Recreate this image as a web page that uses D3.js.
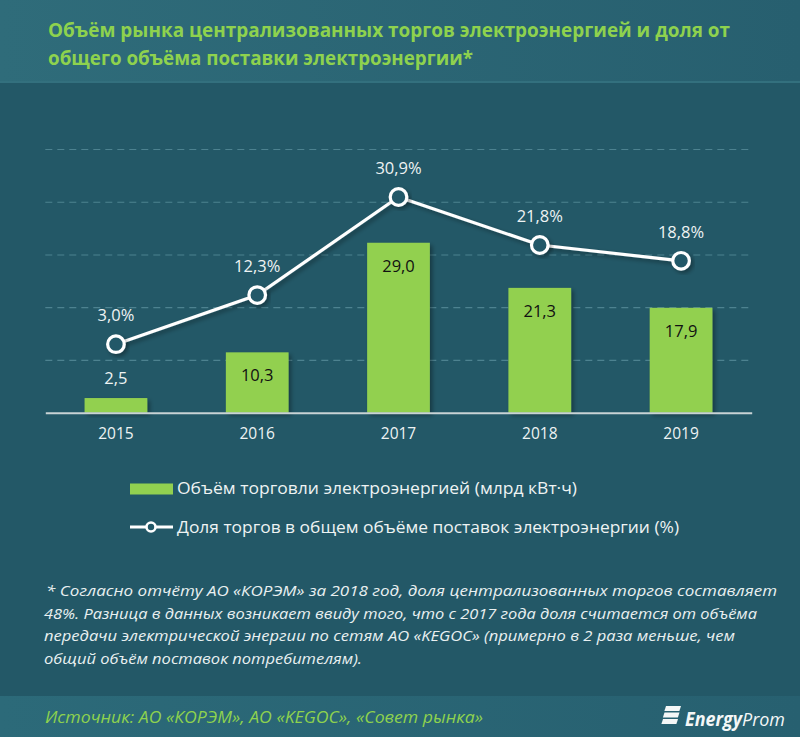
<!DOCTYPE html>
<html><head><meta charset="utf-8">
<script src="https://cdn.jsdelivr.net/npm/d3@7"></script>
<style>
html,body{margin:0;padding:0;background:#235867;}
svg{display:block;}
text{font-family:"Open Sans","DejaVu Sans",sans-serif;}
</style></head>
<body>
<script>
const years = ["2015","2016","2017","2018","2019"];
const volume = [2.5, 10.3, 29.0, 21.3, 17.9];
const share = [3.0, 12.3, 30.9, 21.8, 18.8];
const shareTicks = [-10, 0, 10, 20, 30, 40];
const volumeDomain = [0, 45];
const shareDomain = [-10, 40];
const titleLines = ["Объём рынка централизованных торгов электроэнергией и доля от",
                    "общего объёма поставки электроэнергии*"];
const legendLabels = ["Объём торговли электроэнергией (млрд кВт·ч)",
                      "Доля торгов в общем объёме поставок электроэнергии (%)"];
const footnoteLines = [
  "* Согласно отчёту АО «КОРЭМ» за 2018 год, доля централизованных торгов составляет",
  "48%. Разница в данных возникает ввиду того, что с 2017 года доля считается от объёма",
  "передачи электрической энергии по сетям АО «KEGOC» (примерно в 2 раза меньше, чем",
  "общий объём поставок потребителям)."];
const sourceText = "Источник: АО «КОРЭМ», АО «KEGOC», «Совет рынка»";

const W = 800, H = 737;
const BG = "#235867", GREEN = "#92d050", TITLEGREEN = "#8ed24e";
const fmt = v => d3.format(".1f")(v).replace(".", ",");

const svg = d3.select("body").append("svg").attr("width", W).attr("height", H);
const defs = svg.append("defs");
const hg = defs.append("linearGradient").attr("id","hg");
hg.append("stop").attr("offset","0%").attr("stop-color","#2f6c7a");
hg.append("stop").attr("offset","100%").attr("stop-color","#275f6f");
const fg = defs.append("linearGradient").attr("id","fg");
fg.append("stop").attr("offset","0%").attr("stop-color","#2c6a79");
fg.append("stop").attr("offset","100%").attr("stop-color","#276070");
const sh = defs.append("filter").attr("id","sh").attr("x","-20%").attr("y","-20%").attr("width","150%").attr("height","150%");
sh.append("feDropShadow").attr("dx",2.5).attr("dy",2.5).attr("stdDeviation",2).attr("flood-color","#000").attr("flood-opacity",0.35);

// background
svg.append("rect").attr("width",W).attr("height",H).attr("fill",BG);
svg.append("rect").attr("width",W).attr("height",83).attr("fill","url(#hg)");
svg.append("rect").attr("y",81).attr("width",W).attr("height",2).attr("fill","#33707e");
svg.append("rect").attr("y",696).attr("width",W).attr("height",H-696).attr("fill","url(#fg)");

// title
svg.append("g").selectAll("text").data(titleLines).join("text")
  .attr("x",48).attr("y",(d,i)=>30+i*28).attr("dy","0.35em")
  .attr("fill",TITLEGREEN).attr("font-size",19).attr("font-weight",700)
  .attr("textLength",(d,i)=> i===0 ? 682 : 425).attr("lengthAdjust","spacingAndGlyphs")
  .text(d=>d);

// scales
const x = d3.scaleBand().domain(years).range([45.3, 751.7]).paddingInner(0.556).paddingOuter(0.278);
const yBar = d3.scaleLinear().domain(volumeDomain).range([412.7, 149]);
const yLine = d3.scaleLinear().domain(shareDomain).range([412.7, 149]);

// gridlines
const grid = svg.append("g").attr("transform","translate(45.3,0)")
  .call(d3.axisLeft(yLine).tickValues(shareTicks.filter(t=>t>shareDomain[0])).tickSize(-(751.7-45.3)).tickFormat(""));
grid.select(".domain").remove();
grid.selectAll("line").attr("stroke","#4d8290").attr("stroke-width",1.2).attr("stroke-dasharray","7,5");

// bars
svg.append("g").selectAll("rect").data(volume).join("rect")
  .attr("x",(d,i)=>x(years[i])).attr("width",x.bandwidth())
  .attr("y",d=>yBar(d)).attr("height",d=>yBar(0)-yBar(d))
  .attr("fill",GREEN).attr("filter","url(#sh)");

// x axis
const xa = svg.append("g").attr("transform",`translate(0,${yBar(0)})`)
  .call(d3.axisBottom(x).tickSize(0).tickPadding(15));
xa.select(".domain").attr("stroke","#c9d3d5").attr("stroke-width",2);
xa.selectAll("text").attr("fill","#eef3f3").attr("font-size",15.5)
  .attr("font-family","'Open Sans',sans-serif");

// bar labels
svg.append("g").selectAll("text").data(volume).join("text")
  .attr("x",(d,i)=>x(years[i])+x.bandwidth()/2)
  .attr("y",d=> (yBar(0)-yBar(d) < 30) ? yBar(d)-20 : yBar(d)+23)
  .attr("dy","0.35em").attr("text-anchor","middle").attr("font-size",16.5)
  .attr("fill",d=> (yBar(0)-yBar(d) < 30) ? "#eef3f3" : "#111")
  .text(d=>fmt(d));

// line
const cx = (d,i)=>x(years[i])+x.bandwidth()/2;
svg.append("path").datum(share)
  .attr("d", d3.line().x(cx).y(d=>yLine(d)))
  .attr("fill","none").attr("stroke","#fff").attr("stroke-width",3.2)
  .attr("filter","url(#sh)");
svg.append("g").selectAll("circle").data(share).join("circle")
  .attr("cx",cx).attr("cy",d=>yLine(d)).attr("r",8.3)
  .attr("fill",BG).attr("stroke","#fff").attr("stroke-width",3.2)
  .attr("filter","url(#sh)");
svg.append("g").selectAll("text").data(share).join("text")
  .attr("x",cx).attr("y",d=>yLine(d)-29).attr("dy","0.35em")
  .attr("text-anchor","middle").attr("font-size",16.5).attr("fill","#eef3f3")
  .text(d=>fmt(d)+"%");

// legend
const lg = svg.append("g");
lg.append("rect").attr("x",130).attr("y",483.5).attr("width",43).attr("height",11).attr("fill",GREEN);
lg.append("line").attr("x1",130).attr("x2",173).attr("y1",527).attr("y2",527).attr("stroke","#fff").attr("stroke-width",3.2);
lg.append("circle").attr("cx",151).attr("cy",527).attr("r",4.5).attr("fill",BG).attr("stroke","#fff").attr("stroke-width",2.6);
lg.selectAll("text").data(legendLabels).join("text")
  .attr("x",177).attr("y",(d,i)=>488.5+i*38.5).attr("dy","0.35em")
  .attr("fill","#eef3f3").attr("font-size",16.5)
  .attr("textLength",(d,i)=> i===0 ? 400 : 502).attr("lengthAdjust","spacingAndGlyphs")
  .text(d=>d);

// footnote
const fnLen = [731, 713, 691, 318];
svg.append("g").selectAll("text").data(footnoteLines).join("text")
  .attr("x",(d,i)=> i===0 ? 46 : 44).attr("y",(d,i)=>591+i*22.5).attr("dy","0.35em")
  .attr("fill","#e9f0f1").attr("font-size",15).attr("font-style","italic")
  .attr("textLength",(d,i)=>fnLen[i]).attr("lengthAdjust","spacingAndGlyphs")
  .text(d=>d);

// source
svg.append("text").attr("x",45).attr("y",717).attr("dy","0.35em")
  .attr("fill",TITLEGREEN).attr("font-size",16).attr("font-style","italic")
  .attr("textLength",438).attr("lengthAdjust","spacingAndGlyphs").text(sourceText);

// logo
const logo = svg.append("g").attr("fill","#f4f7f7");
[0,1,2].forEach(k=>{
  logo.append("path").attr("d",`M${666-k*1.5},${706+k*6.5} l15,0 l-1.6,5 l-15,0 z`);
});
const lt = svg.append("text").attr("x",685).attr("y",719).attr("dy","0.35em")
  .attr("fill","#f4f7f7").attr("font-size",19).attr("font-style","italic")
  .attr("textLength",100).attr("lengthAdjust","spacingAndGlyphs");
lt.append("tspan").attr("font-weight",700).text("Energy");
lt.append("tspan").attr("font-weight",400).text("Prom");
</script>
</body></html>
